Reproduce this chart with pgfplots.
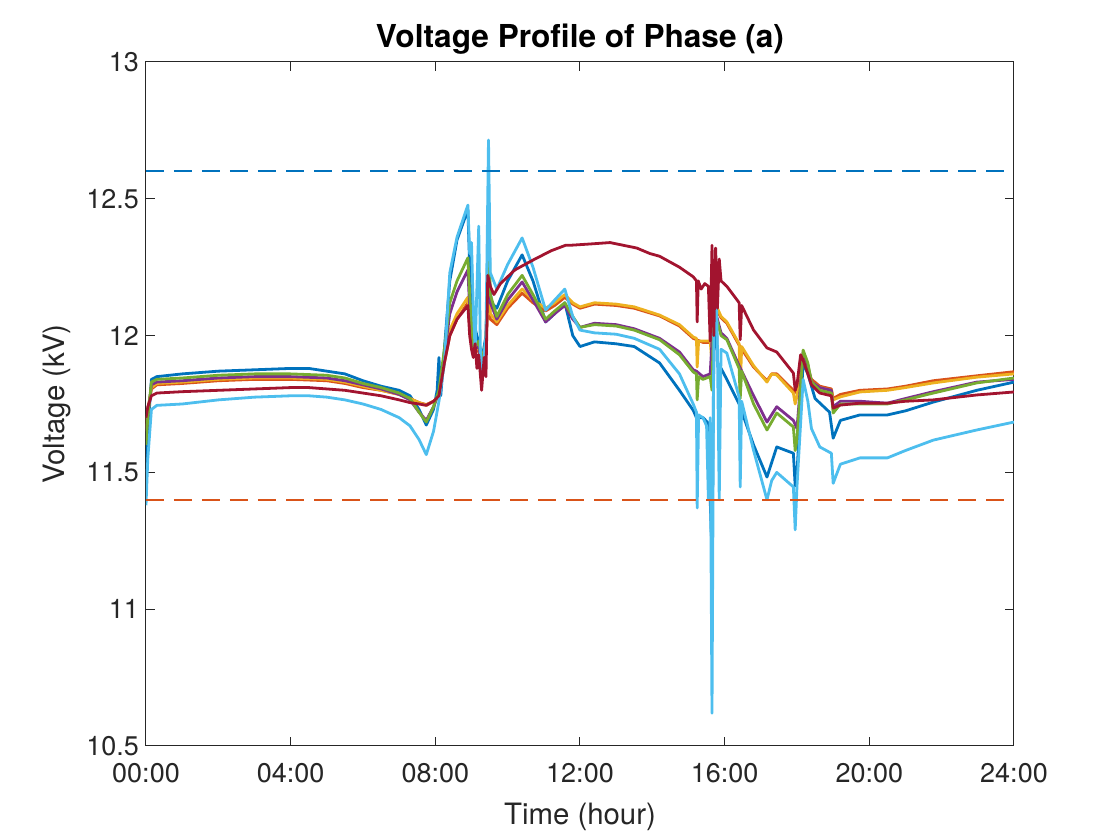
\documentclass[border=0pt]{standalone}
\usepackage{fontspec}
\setmainfont{TeX Gyre Heros}
\usepackage{pgfplots}
\pgfplotsset{compat=1.18}

\definecolor{mblue}{rgb}{0,0.447,0.741}
\definecolor{mlimit}{rgb}{0,0.447,0.741}
\definecolor{morange}{rgb}{0.850,0.325,0.098}
\definecolor{myellow}{rgb}{0.929,0.694,0.125}
\definecolor{mpurple}{rgb}{0.494,0.184,0.556}
\definecolor{mgreen}{rgb}{0.466,0.674,0.188}
\definecolor{mcyan}{rgb}{0.301,0.745,0.933}
\definecolor{mred}{rgb}{0.635,0.078,0.184}
\definecolor{axgray}{rgb}{0.15,0.15,0.15}

\begin{document}
\begin{tikzpicture}
\begin{axis}[
    name=ax,
    scale only axis,
    width=434pt, height=342pt,
    xmin=0, xmax=24, ymin=10.5, ymax=13,
    xtick={0,4,8,12,16,20,24},
    xticklabels={00:00,04:00,08:00,12:00,16:00,20:00,24:00},
    ytick={10.5,11,11.5,12,12.5,13},
    tick align=inside,
    xtick pos=both, ytick pos=both,
    major tick length=4.3pt,
    axis line style={axgray, line width=0.5pt},
    tick style={axgray, line width=0.5pt},
    /pgf/number format/assume math mode=true,
    ticklabel style={font=\fontsize{13.5}{16}\selectfont, color=axgray},
    xticklabel style={yshift=-5pt},
    xlabel={Time (hour)},
    ylabel={Voltage (kV)},
    label style={font=\fontsize{14.7}{17}\selectfont, color=axgray},
    xlabel style={at={(axis description cs:0.5,-0.1035)}, anchor=center},
    ylabel style={at={(axis description cs:-0.1025,0.5)}, anchor=center},
    every axis plot/.append style={line width=1.4pt, line join=round},
]
% blue
\addplot[mblue] coordinates {
(0,11.50) (0.05,11.65) (0.15,11.84) (0.3,11.85) (1,11.86) (2,11.87) (3,11.875) (4,11.88) (4.5,11.88)
(5,11.87) (5.5,11.86) (6,11.835) (6.5,11.815) (7,11.80) (7.3,11.78) (7.55,11.73) (7.75,11.673)
(7.95,11.73) (8.05,11.80) (8.1,11.92) (8.15,11.78) (8.25,11.95) (8.4,12.20) (8.6,12.35) (8.9,12.46)
(8.95,12.25) (9.05,12.05) (9.15,12.00) (9.3,11.92) (9.4,12.00) (9.47,12.25) (9.55,12.12) (9.7,12.10)
(10.0,12.20) (10.4,12.295) (10.7,12.20) (11.05,12.05) (11.3,12.08) (11.58,12.12) (11.8,12.00)
(12.0,11.96) (12.4,11.977) (13.0,11.97) (13.5,11.96) (14.2,11.90) (14.75,11.80) (15.13,11.727)
(15.22,11.70) (15.4,11.70) (15.55,11.68) (15.6,11.40) (15.65,11.20) (15.7,11.95) (15.75,12.20)
(15.8,11.90) (15.9,11.88) (16.06,11.84) (16.4,11.75) (16.8,11.60) (17.17,11.483) (17.44,11.593)
(17.9,11.57) (17.95,11.45) (18.0,11.50) (18.17,11.90) (18.3,11.86) (18.5,11.77) (18.9,11.72)
(19.0,11.625) (19.2,11.69) (19.74,11.71) (20.5,11.71) (21.0,11.725) (21.77,11.757) (22.97,11.80) (24,11.83)
};

% orange
\addplot[morange] coordinates {
(0,11.66) (0.05,11.73) (0.15,11.805) (0.3,11.82) (1,11.825) (2,11.835) (3,11.84) (4,11.84) (5,11.835)
(5.5,11.825) (6,11.81) (6.5,11.80) (7,11.785) (7.3,11.77) (7.55,11.755) (7.75,11.748) (7.95,11.76)
(8.1,11.78) (8.25,11.90) (8.4,12.00) (8.6,12.06) (8.9,12.12) (8.95,12.03) (9.05,11.97) (9.2,11.94)
(9.3,11.91) (9.4,11.96) (9.47,12.18) (9.52,12.06) (9.7,12.04) (10.0,12.10) (10.4,12.155) (10.7,12.12)
(11.05,12.09) (11.3,12.11) (11.58,12.14) (11.8,12.115) (12.0,12.10) (12.4,12.115) (13.0,12.11)
(13.5,12.10) (14.2,12.072) (14.75,12.035) (15.13,11.99) (15.22,11.985) (15.4,11.975) (15.6,11.975)
(15.7,12.18) (15.8,12.09) (15.9,12.065) (16.06,12.045) (16.4,11.965) (16.8,11.885) (17.17,11.835)
(17.3,11.86) (17.44,11.86) (17.9,11.80) (18.0,11.79) (18.17,11.93) (18.3,11.88) (18.4,11.84)
(18.63,11.815) (18.95,11.805) (19.0,11.77) (19.2,11.785) (19.74,11.80) (20.5,11.805) (21.0,11.815)
(21.77,11.835) (22.97,11.853) (24,11.868)
};

% yellow
\addplot[myellow] coordinates {
(0,11.65) (0.05,11.72) (0.15,11.81) (0.3,11.825) (1,11.83) (2,11.84) (3,11.845) (4,11.845) (5,11.84)
(5.5,11.83) (6,11.815) (6.5,11.80) (7,11.785) (7.3,11.77) (7.55,11.755) (7.75,11.745) (7.95,11.76)
(8.1,11.78) (8.25,11.92) (8.4,12.02) (8.6,12.08) (8.9,12.14) (8.95,12.05) (9.05,11.98) (9.2,11.95)
(9.3,11.92) (9.4,11.97) (9.47,12.20) (9.52,12.08) (9.7,12.05) (10.0,12.11) (10.4,12.17) (10.7,12.13)
(11.05,12.10) (11.3,12.12) (11.58,12.15) (11.8,12.12) (12.0,12.105) (12.4,12.12) (13.0,12.115)
(13.5,12.105) (14.2,12.075) (14.75,12.04) (15.13,11.995) (15.22,11.99) (15.24,11.885) (15.28,11.98)
(15.4,11.98) (15.6,11.98) (15.65,11.90) (15.7,12.20) (15.8,12.10) (15.9,12.07) (16.06,12.05)
(16.4,11.97) (16.43,11.80) (16.47,11.96) (16.8,11.89) (17.17,11.83) (17.3,11.86) (17.44,11.856)
(17.9,11.79) (17.95,11.75) (18.0,11.78) (18.17,11.93) (18.3,11.88) (18.4,11.83) (18.63,11.81)
(18.95,11.80) (19.0,11.765) (19.2,11.776) (19.74,11.794) (20.5,11.80) (21.0,11.81) (21.77,11.827)
(22.97,11.848) (24,11.86)
};

% purple
\addplot[mpurple] coordinates {
(0,11.62) (0.05,11.70) (0.15,11.82) (0.3,11.83) (1,11.835) (2,11.845) (3,11.85) (4,11.85) (5,11.845)
(5.5,11.835) (6,11.82) (6.5,11.805) (7,11.785) (7.3,11.765) (7.55,11.72) (7.75,11.69) (7.95,11.74)
(8.1,11.79) (8.25,11.93) (8.4,12.08) (8.6,12.16) (8.9,12.24) (8.95,12.10) (9.05,11.95) (9.2,11.96)
(9.3,11.88) (9.4,11.97) (9.47,12.30) (9.52,12.12) (9.7,12.06) (10.0,12.13) (10.4,12.196) (10.7,12.13)
(11.05,12.05) (11.3,12.08) (11.58,12.11) (11.8,12.06) (12.0,12.03) (12.4,12.045) (13.0,12.04)
(13.5,12.025) (14.2,11.99) (14.75,11.94) (15.13,11.875) (15.22,11.87) (15.4,11.85) (15.6,11.86)
(15.7,12.10) (15.8,12.06) (15.9,12.01) (16.06,11.99) (16.4,11.89) (16.8,11.78) (17.17,11.684)
(17.44,11.74) (17.9,11.69) (18.0,11.66) (18.17,11.94) (18.3,11.89) (18.4,11.83) (18.63,11.81)
(18.95,11.80) (19.0,11.74) (19.2,11.76) (19.74,11.76) (20.5,11.753) (21.0,11.77) (21.77,11.795)
(22.97,11.83) (24,11.84)
};

% green
\addplot[mgreen] coordinates {
(0,11.60) (0.05,11.70) (0.15,11.83) (0.3,11.84) (1,11.845) (2,11.855) (3,11.86) (4,11.86) (5,11.855)
(5.5,11.845) (6,11.825) (6.5,11.81) (7,11.79) (7.3,11.77) (7.55,11.72) (7.75,11.684) (7.95,11.74)
(8.1,11.80) (8.25,11.95) (8.4,12.12) (8.6,12.20) (8.9,12.284) (8.95,12.15) (9.05,11.95) (9.2,11.98)
(9.3,11.90) (9.4,11.98) (9.47,12.45) (9.52,12.15) (9.7,12.07) (10.0,12.15) (10.4,12.22) (10.7,12.15)
(11.05,12.06) (11.3,12.09) (11.58,12.12) (11.8,12.07) (12.0,12.03) (12.4,12.04) (13.0,12.035)
(13.5,12.02) (14.2,11.985) (14.75,11.93) (15.13,11.867) (15.22,11.86) (15.24,11.765) (15.28,11.85)
(15.4,11.84) (15.6,11.85) (15.65,11.80) (15.7,12.10) (15.8,12.05) (15.9,12.00) (16.06,11.985)
(16.4,11.88) (16.43,11.77) (16.47,11.87) (16.8,11.75) (17.17,11.655) (17.44,11.717) (17.9,11.666)
(17.95,11.58) (18.0,11.62) (18.17,11.947) (18.3,11.90) (18.4,11.83) (18.63,11.80) (18.95,11.79)
(19.0,11.717) (19.2,11.75) (19.74,11.75) (20.5,11.75) (21.0,11.765) (21.77,11.79) (22.97,11.827) (24,11.845)
};

% light blue
\addplot[mcyan] coordinates {
(0,11.38) (0.05,11.55) (0.15,11.73) (0.3,11.745) (1,11.75) (2,11.765) (3,11.775) (4,11.78) (4.5,11.78)
(5,11.775) (5.5,11.765) (6,11.75) (6.5,11.73) (7,11.70) (7.3,11.67) (7.55,11.62) (7.75,11.565)
(7.95,11.65) (8.1,11.76) (8.25,11.90) (8.4,12.23) (8.6,12.36) (8.9,12.477) (8.95,12.30) (9.0,12.34)
(9.05,12.10) (9.1,11.95) (9.2,12.40) (9.25,11.90) (9.3,11.86) (9.4,12.00) (9.47,12.715) (9.52,12.23)
(9.7,12.17) (10.0,12.26) (10.4,12.357) (10.7,12.25) (11.05,12.093) (11.3,12.13) (11.58,12.17)
(11.8,12.07) (12.0,12.02) (12.4,12.01) (13.0,12.005) (13.5,11.99) (14.2,11.95) (14.75,11.86)
(15.13,11.75) (15.22,11.72) (15.24,11.37) (15.28,11.71) (15.4,11.70) (15.5,11.67) (15.55,11.40)
(15.6,11.70) (15.65,10.62) (15.7,12.00) (15.75,12.27) (15.8,11.95) (15.85,11.40) (15.9,11.95)
(16.06,11.936) (16.4,11.775) (16.43,11.447) (16.47,11.76) (16.8,11.58) (17.17,11.40) (17.3,11.47)
(17.44,11.50) (17.7,11.47) (17.9,11.447) (17.95,11.29) (18.0,11.45) (18.17,11.84) (18.3,11.76)
(18.4,11.66) (18.63,11.593) (18.95,11.57) (19.0,11.46) (19.2,11.53) (19.74,11.553) (20.5,11.553)
(21.0,11.58) (21.77,11.618) (22.97,11.655) (24,11.684)
};

% dark red
\addplot[mred] coordinates {
(0,11.70) (0.05,11.74) (0.15,11.78) (0.3,11.79) (1,11.795) (2,11.80) (3,11.805) (4,11.81) (4.5,11.81)
(5,11.805) (5.5,11.80) (6,11.79) (6.5,11.78) (7,11.765) (7.3,11.755) (7.55,11.75) (7.75,11.745)
(7.95,11.76) (8.1,11.78) (8.25,11.90) (8.4,12.00) (8.6,12.06) (8.9,12.11) (8.95,12.00) (9.0,11.95)
(9.05,11.92) (9.1,11.97) (9.15,11.88) (9.2,11.93) (9.28,11.80) (9.35,11.92) (9.4,11.85) (9.45,12.22)
(9.52,12.18) (9.62,12.15) (9.8,12.19) (10.2,12.24) (10.7,12.276) (11.2,12.31) (11.6,12.33) (11.72,12.33)
(12.3,12.335) (12.83,12.34) (13.57,12.32) (13.93,12.30) (14.2,12.29) (14.75,12.25) (15.13,12.215)
(15.22,12.20) (15.24,12.05) (15.27,12.20) (15.35,12.17) (15.45,12.19) (15.55,12.18) (15.6,11.98)
(15.65,12.33) (15.7,12.00) (15.75,12.32) (15.8,12.10) (15.85,12.28) (15.9,12.20) (16.06,12.18)
(16.4,12.12) (16.43,11.985) (16.47,12.11) (16.8,12.02) (17.17,11.955) (17.44,11.94) (17.9,11.863)
(17.95,11.80) (18.0,11.82) (18.1,11.93) (18.17,11.91) (18.3,11.86) (18.4,11.82) (18.63,11.79)
(18.95,11.78) (19.0,11.735) (19.2,11.746) (19.74,11.753) (20.5,11.753) (21.0,11.76) (21.77,11.765)
(22.97,11.783) (24,11.794)
};

% limits
\addplot[color=mlimit, line width=1pt, dash pattern=on 9pt off 5pt] coordinates {(0,12.6) (24,12.6)};
\addplot[color=morange, line width=0.8pt, dash pattern=on 9pt off 5pt] coordinates {(0,11.4) (24,11.4)};
\end{axis}
\node[font=\bfseries\fontsize{15.8}{19}\selectfont, anchor=center]
    at ([yshift=11.3pt]ax.north) {Voltage Profile of Phase (a)};
\pgfresetboundingbox
\path ([shift={(-73pt,-47pt)}]ax.south west) rectangle ++(560pt,420pt);
\end{tikzpicture}
\end{document}
